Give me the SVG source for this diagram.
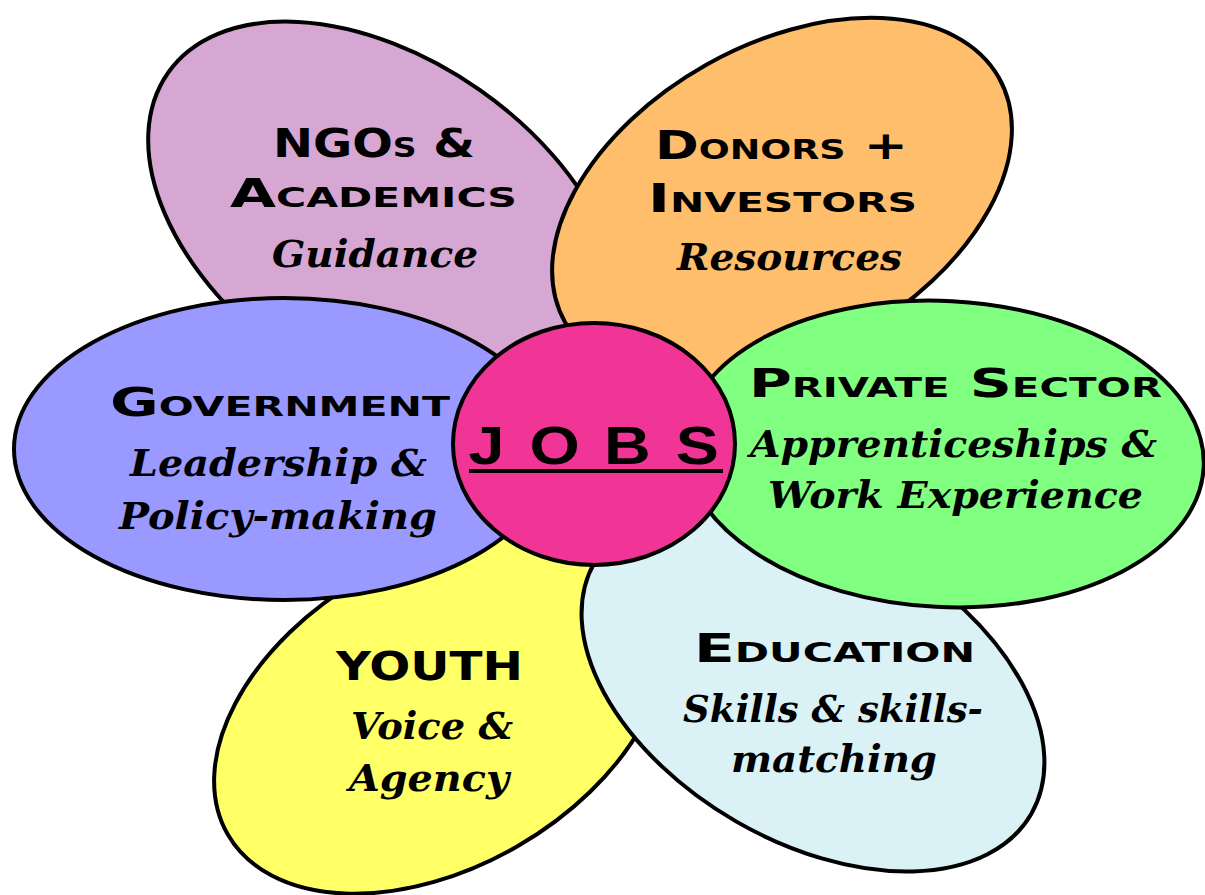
<svg xmlns="http://www.w3.org/2000/svg" width="1205" height="895" viewBox="0 0 1205 895">
<style>
.petal{stroke:#000;stroke-width:4}
.h{font-family:"DejaVu Sans","Liberation Sans",sans-serif;font-weight:bold;font-variant:small-caps;font-size:39px;fill:#000}
.i{font-family:"DejaVu Serif","Liberation Serif",serif;font-weight:bold;font-style:italic;font-size:38px;fill:#000}
</style>
<rect width="1205" height="895" fill="#fff"/>
<g id="connectors"/>
<g id="ngos">
<ellipse class="petal" cx="385" cy="225" rx="265" ry="165" transform="rotate(35 385 225)" fill="#D6A7D2"/>
<text class="h" x="273" y="157" textLength="202" lengthAdjust="spacingAndGlyphs">NGOs &amp;</text>
<text class="h" x="230" y="207" textLength="287" lengthAdjust="spacingAndGlyphs">Academics</text>
<text class="i" x="272" y="267" font-size="41" textLength="206" lengthAdjust="spacingAndGlyphs">Guidance</text>
</g>
<g id="youth">
<ellipse class="petal" cx="440" cy="712" rx="245" ry="155" transform="rotate(-30 440 712)" fill="#FFFF66"/>
<text class="h" x="336" y="680" textLength="187" lengthAdjust="spacingAndGlyphs">YOUTH</text>
<text class="i" x="351" y="739" font-size="33" textLength="162" lengthAdjust="spacingAndGlyphs">Voice &amp;</text>
<text class="i" x="349" y="791" font-size="33" textLength="160" lengthAdjust="spacingAndGlyphs">Agency</text>
</g>
<g id="education">
<ellipse class="petal" cx="813" cy="688" rx="252" ry="154" transform="rotate(30 813 688)" fill="#DAF1F6"/>
<text class="h" x="694" y="662" textLength="281" lengthAdjust="spacingAndGlyphs">Education</text>
<text class="i" x="683" y="722" font-size="36" textLength="300" lengthAdjust="spacingAndGlyphs">Skills &amp; skills-</text>
<text class="i" x="731" y="772" font-size="36" textLength="206" lengthAdjust="spacingAndGlyphs">matching</text>
</g>
<g id="donors">
<ellipse class="petal" cx="782" cy="200" rx="249" ry="155" transform="rotate(-29.4 782 200)" fill="#FFBE6B"/>
<text class="h" x="655" y="159" textLength="253" lengthAdjust="spacingAndGlyphs">Donors +</text>
<text class="h" x="648" y="212" textLength="269" lengthAdjust="spacingAndGlyphs">Investors</text>
<text class="i" x="677" y="270" font-size="40" textLength="225" lengthAdjust="spacingAndGlyphs">Resources</text>
</g>
<g id="government">
<ellipse class="petal" cx="284" cy="449" rx="270" ry="151" fill="#9999FF"/>
<text class="h" x="110" y="416" textLength="340" lengthAdjust="spacingAndGlyphs">Government</text>
<text class="i" x="130" y="476" textLength="297" lengthAdjust="spacingAndGlyphs">Leadership &amp;</text>
<text class="i" x="119" y="529" textLength="318" lengthAdjust="spacingAndGlyphs">Policy-making</text>
</g>
<g id="private-sector">
<ellipse class="petal" cx="944" cy="454" rx="260" ry="153" transform="rotate(3 944 454)" fill="#80FF80"/>
<text class="h" x="749" y="397" textLength="413" lengthAdjust="spacingAndGlyphs">Private Sector</text>
<text class="i" x="750" y="457" font-size="37" textLength="407" lengthAdjust="spacingAndGlyphs">Apprenticeships &amp;</text>
<text class="i" x="768" y="508" font-size="37" textLength="375" lengthAdjust="spacingAndGlyphs">Work Experience</text>
</g>
<g id="jobs">
<ellipse class="petal" cx="594" cy="444" rx="141" ry="121" fill="#F03596"/>
<text font-family="'Liberation Sans',Arial,sans-serif" font-weight="bold" font-size="53" transform="translate(0 464) scale(1.22 1)" x="384 434 495 554" y="0">JOBS</text>
<line x1="469" y1="471" x2="723" y2="471" stroke="#000" stroke-width="4"/>
</g>
</svg>
